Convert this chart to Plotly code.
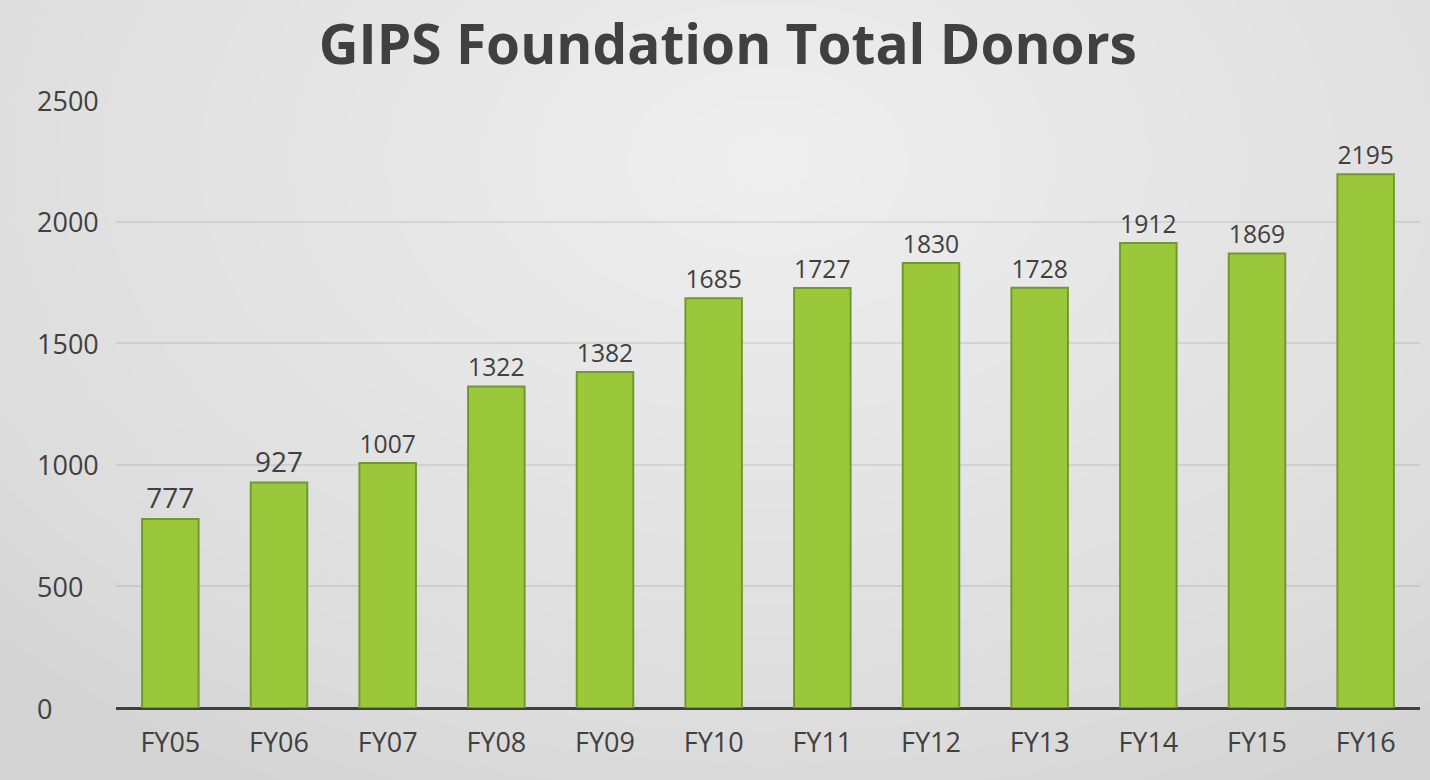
import plotly.graph_objects as go

# Data
years = ["FY05", "FY06", "FY07", "FY08", "FY09", "FY10",
         "FY11", "FY12", "FY13", "FY14", "FY15", "FY16"]
donors = [777, 927, 1007, 1322, 1382, 1685, 1727, 1830, 1728, 1912, 1869, 2195]
y_ticks = [0, 500, 1000, 1500, 2000, 2500]

text_color = "#404040"
font_family = "Open Sans, DejaVu Sans, sans-serif"

fig = go.Figure()

fig.add_trace(go.Bar(
    x=years,
    y=donors,
    text=[str(v) for v in donors],
    textposition="outside",
    cliponaxis=False,
    textfont=dict(size=28, color=text_color, family=font_family),
    marker=dict(color="#9bc73b", line=dict(color="#72992b", width=2)),
    width=0.52,
    hoverinfo="x+y",
))

# Soft radial background (stacked translucent ellipses)
shapes = []
steps = 22
for i in range(steps):
    f = 1.0 - i / steps
    shapes.append(dict(
        type="circle", xref="paper", yref="paper", layer="below",
        x0=0.5 - 0.8 * f, x1=0.5 + 0.8 * f,
        y0=0.9 - 1.15 * f, y1=0.9 + 1.15 * f,
        fillcolor="rgba(255,255,255,0.055)", line_width=0,
    ))

# Left-aligned y tick labels (as in the original)
annotations = []
for t in y_ticks:
    annotations.append(dict(
        x=-0.062, y=t, xref="paper", yref="y", text=str(t),
        showarrow=False, xanchor="left", yanchor="middle",
        font=dict(size=27, color=text_color, family=font_family),
    ))

fig.update_layout(
    width=1430,
    height=780,
    margin=dict(l=116, r=10, t=100, b=72),
    paper_bgcolor="#d4d4d4",
    plot_bgcolor="rgba(0,0,0,0)",
    title=dict(
        text="<b>GIPS Foundation Total Donors</b>",
        x=0.509, xanchor="center", y=0.942, yanchor="middle",
        font=dict(size=55, color=text_color, family=font_family),
    ),
    shapes=shapes,
    annotations=annotations,
    showlegend=False,
    bargap=0.48,
)

fig.update_xaxes(
    showgrid=False,
    showline=False,
    ticks="",
    tickfont=dict(size=27, color=text_color, family=font_family),
    ticklabelstandoff=16,
)
fig.update_yaxes(
    range=[0, 2500],
    tickvals=y_ticks,
    showticklabels=False,
    showgrid=True,
    gridcolor="rgba(0,0,0,0.08)",
    gridwidth=2,
    zeroline=True,
    zerolinecolor="#404040",
    zerolinewidth=3,
)

fig.write_html(
    "out.html",
    config={"displayModeBar": False},
    post_script="document.body.style.margin='0';",
)
